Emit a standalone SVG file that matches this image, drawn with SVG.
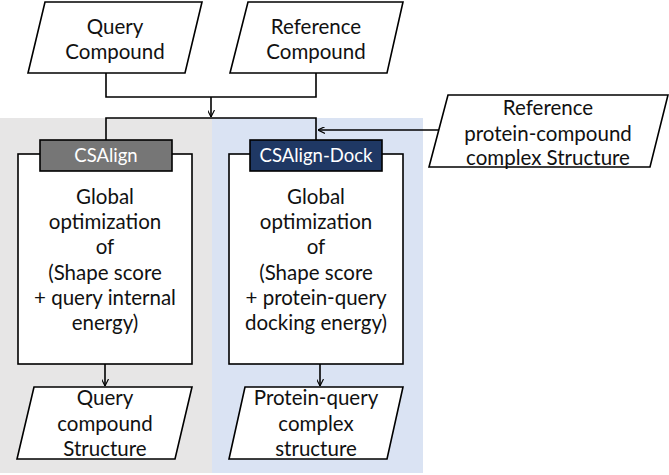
<svg xmlns="http://www.w3.org/2000/svg" width="669" height="475" viewBox="0 0 669 475">
<defs>
<marker id="arr" viewBox="0 0 10 10" refX="10" refY="5" markerWidth="7" markerHeight="7" orient="auto" markerUnits="userSpaceOnUse">
<path d="M0,0 L10,5 L0,10" fill="none" stroke="#000" stroke-width="1.6"/>
</marker>
<style>
.sh{fill:#fff;stroke:#000;stroke-width:1.6}
.t{font-family:Lato,"Open Sans",sans-serif;font-size:20.5px;fill:#111;text-anchor:middle}
.tab{font-family:Lato,"Open Sans",sans-serif;font-size:18.5px;fill:#fff;text-anchor:middle}
.c{fill:none;stroke:#000;stroke-width:1.6}
</style>
</defs>
<rect width="669" height="475" fill="#fff"/>
<rect x="0" y="118" width="212" height="355" fill="#e7e6e6"/>
<rect x="212" y="118" width="211" height="355" fill="#dae3f3"/>

<g id="query-compound">
<polygon class="sh" points="45,2 202,2 185,73 28,73"/>
<text class="t" x="115" y="34">Query</text>
<text class="t" x="115" y="59">Compound</text>
</g>
<g id="reference-compound">
<polygon class="sh" points="248,2 403,2 387,73 230,73"/>
<text class="t" x="316" y="34">Reference</text>
<text class="t" x="316" y="59">Compound</text>
</g>
<g id="reference-complex">
<polygon class="sh" points="448,95 668,95 650,167 429,167"/>
<text class="t" x="548" y="115">Reference</text>
<text class="t" x="548" y="141">protein-compound</text>
<text class="t" x="548" y="165">complex Structure</text>
</g>

<g id="csalign">
<rect class="sh" x="18" y="154" width="174" height="210"/>
<rect x="40" y="140" width="132" height="31" fill="#767676" stroke="#000" stroke-width="1.6"/>
<text class="tab" x="106" y="162">CSAlign</text>
<text class="t" x="105" y="204">Global</text>
<text class="t" x="105" y="229">optimization</text>
<text class="t" x="105" y="254">of</text>
<text class="t" x="105" y="280">(Shape score</text>
<text class="t" x="105" y="305">+ query internal</text>
<text class="t" x="105" y="330">energy)</text>
</g>
<g id="csalign-dock">
<rect class="sh" x="229" y="154" width="174" height="210"/>
<rect x="250" y="140" width="132" height="31" fill="#1f3864" stroke="#000" stroke-width="1.6"/>
<text class="tab" x="316" y="162">CSAlign-Dock</text>
<text class="t" x="316" y="204">Global</text>
<text class="t" x="316" y="229">optimization</text>
<text class="t" x="316" y="254">of</text>
<text class="t" x="316" y="280">(Shape score</text>
<text class="t" x="316" y="305">+ protein-query</text>
<text class="t" x="316" y="330">docking energy)</text>
</g>

<g id="query-structure">
<polygon class="sh" points="34,387 192,387 175,459 17,459"/>
<text class="t" x="105" y="405">Query</text>
<text class="t" x="105" y="431">compound</text>
<text class="t" x="105" y="456">Structure</text>
</g>
<g id="complex-structure">
<polygon class="sh" points="245,387 403,387 387,459 229,459"/>
<text class="t" x="316" y="405">Protein-query</text>
<text class="t" x="316" y="431">complex</text>
<text class="t" x="316" y="456">structure</text>
</g>

<g id="connectors">
<polyline class="c" points="106,73 106,97 316,97 316,73"/>
<line class="c" x1="211" y1="97" x2="211" y2="117" marker-end="url(#arr)"/>
<polyline class="c" points="106,140 106,118 316,118 316,140"/>
<line class="c" x1="439" y1="130" x2="318" y2="130" marker-end="url(#arr)"/>
<line class="c" x1="105" y1="364" x2="105" y2="386" marker-end="url(#arr)"/>
<line class="c" x1="320" y1="364" x2="320" y2="386" marker-end="url(#arr)"/>
</g>
</svg>
